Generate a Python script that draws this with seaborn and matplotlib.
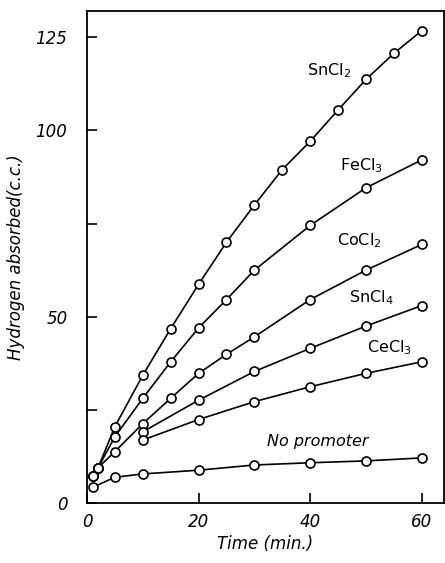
import numpy as np
import pandas as pd
import matplotlib
matplotlib.use("Agg")
import matplotlib.pyplot as plt
import seaborn as sns

# ===============================
# DATA
# ===============================
t_sncl2 = [1, 2, 5, 10, 15, 20, 25, 30, 35, 40, 45, 50, 55, 60]
h_sncl2 = [7.2, 9.5, 20.5, 34.3, 46.8, 58.7, 70.0, 80.0, 89.5, 97.1, 105.5, 113.7, 120.7, 126.8]

t_fecl3 = [1, 2, 5, 10, 15, 20, 25, 30, 40, 50, 60]
h_fecl3 = [7.2, 9.5, 17.8, 28.1, 37.9, 47.0, 54.6, 62.5, 74.5, 84.6, 92.1]

t_cocl2 = [1, 2, 5, 10, 15, 20, 25, 30, 40, 50, 60]
h_cocl2 = [7.2, 9.5, 13.8, 21.3, 28.1, 34.8, 39.9, 44.6, 54.6, 62.5, 69.4]

t_sncl4 = [10, 20, 30, 40, 50, 60]
h_sncl4 = [19.1, 27.6, 35.3, 41.5, 47.5, 53.0]

t_cecl3 = [10, 20, 30, 40, 50, 60]
h_cecl3 = [16.9, 22.4, 27.2, 31.2, 34.8, 37.9]

t_none = [1, 5, 10, 20, 30, 40, 50, 60]
h_none = [4.2, 6.9, 7.8, 8.8, 10.2, 10.8, 11.3, 12.1]

series = [
    ("SnCl$_2$", t_sncl2, h_sncl2),
    ("FeCl$_3$", t_fecl3, h_fecl3),
    ("CoCl$_2$", t_cocl2, h_cocl2),
    ("SnCl$_4$", t_sncl4, h_sncl4),
    ("CeCl$_3$", t_cecl3, h_cecl3),
    ("No promoter", t_none, h_none),
]

# label anchor (left, middle) in data coords
label_pos = {
    "SnCl$_2$": (39.5, 116),
    "FeCl$_3$": (45.3, 90.5),
    "CoCl$_2$": (44.8, 70.5),
    "SnCl$_4$": (46.9, 55),
    "CeCl$_3$": (50.2, 41.8),
    "No promoter": (32.2, 16.4),
}

# ===============================
# PLOT
# ===============================
sns.set_style("ticks")
plt.rcParams['font.family'] = ['DejaVu Sans']
plt.rcParams['mathtext.default'] = 'regular'
for key in ["text.color", "axes.labelcolor", "xtick.color", "ytick.color", "axes.edgecolor"]:
    plt.rcParams[key] = "black"

fig = plt.figure(figsize=(4.45, 5.63), dpi=100)
ax = fig.add_axes([0.1955, 0.1066, 0.8025, 0.8734])

for name, t, h in series:
    df = pd.DataFrame({"time": t, "h2": h})
    sns.lineplot(data=df, x="time", y="h2", ax=ax, color="black", lw=1.2,
                 marker="o", markersize=6.5, markerfacecolor="white",
                 markeredgecolor="black", markeredgewidth=1.2, sort=False)
    lx, ly = label_pos[name]
    style = "italic" if name == "No promoter" else "normal"
    ax.text(lx, ly, name, fontsize=11.5, style=style, ha="left", va="center")

ax.set_xlim(0.5, 64)
ax.set_ylim(0, 132)
ax.set_xticks([0, 20, 40, 60])
ax.set_xticklabels(["0", "20", "40", "60"], fontsize=12, style="italic")
ax.set_yticks([0, 25, 50, 75, 100, 125])
ax.set_yticklabels(["0", "", "50", "", "100", "125"], fontsize=12, style="italic")
ax.tick_params(axis="x", direction="in", length=7, width=1.2, pad=7)
ax.tick_params(axis="y", direction="in", length=7, width=1.2, pad=14)
for sp in ax.spines.values():
    sp.set_linewidth(1.3)

ax.set_xlabel("Time (min.)", fontsize=12, style="italic", labelpad=3)
ax.set_ylabel("Hydrogen absorbed(c.c.)", fontsize=12, style="italic", labelpad=8)

plt.savefig("out.png", dpi=100)
